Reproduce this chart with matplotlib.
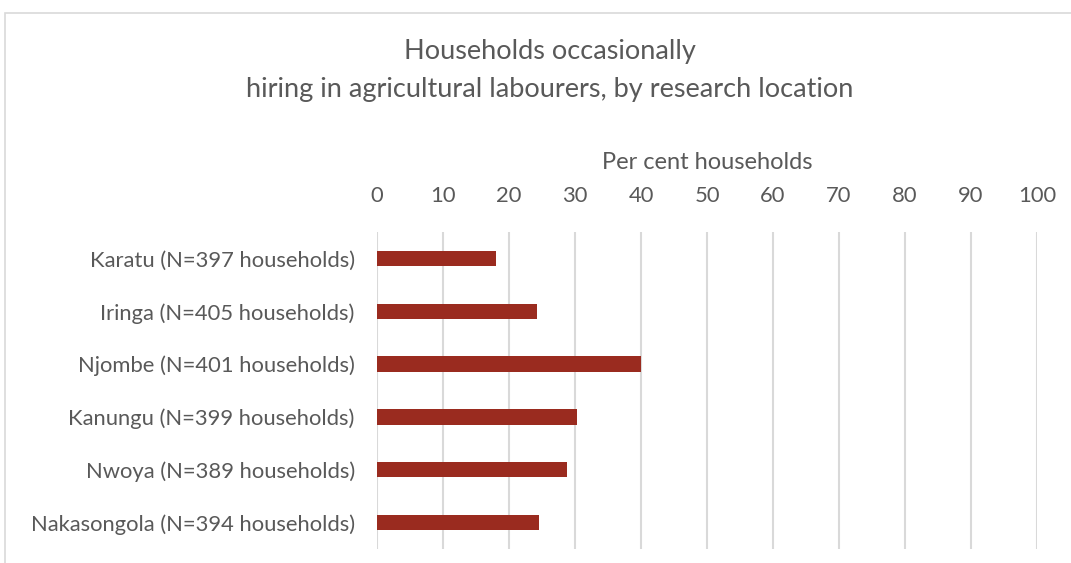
import matplotlib.pyplot as plt
from matplotlib.patches import Rectangle

locations = ['Karatu (N=397 households)', 'Iringa (N=405 households)',
             'Njombe (N=401 households)', 'Kanungu (N=399 households)',
             'Nwoya (N=389 households)', 'Nakasongola (N=394 households)']
percent = [18.1, 24.2, 40.0, 30.3, 28.8, 24.6]
ticks = list(range(0, 101, 10))

plt.rcParams['font.family'] = ['Lato', 'DejaVu Sans']
txt = '#595959'

fig = plt.figure(figsize=(10.71, 5.63), dpi=100)
W, H = 1071, 563
ax = fig.add_axes([377 / W, 1 - 549 / H, (1037 - 377) / W, (549 - 232) / H])

ypos = range(len(locations))
ax.barh(ypos, percent, height=0.29, color='#9A2B1F', zorder=3)
ax.set_ylim(len(locations) - 0.5, -0.5)
ax.set_xlim(0, 100)
ax.set_yticks(list(ypos))
ax.set_yticklabels(locations)
ax.set_xticks(ticks)
ax.xaxis.tick_top()
ax.xaxis.set_label_position('top')
ax.set_xlabel('Per cent households', fontsize=17, color=txt, labelpad=12)
ax.tick_params(axis='both', length=0, labelsize=15.8, colors=txt)
ax.tick_params(axis='x', pad=19)
ax.tick_params(axis='y', pad=16)
ax.grid(axis='x', color='#D9D9D9', linewidth=1.5, zorder=0)
for s in ax.spines.values():
    s.set_visible(False)

fig.text(550 / W, 1 - 51 / H, 'Households occasionally', ha='center', va='center',
         fontsize=19.5, color=txt)
fig.text(550 / W, 1 - 89 / H, 'hiring in agricultural labourers, by research location',
         ha='center', va='center', fontsize=19.5, color=txt)

fig.add_artist(Rectangle((5 / W, -0.01), 1.1, 1 - 13 / H + 0.01, transform=fig.transFigure,
                         fill=False, edgecolor='#D9D9D9', linewidth=1.2))

fig.savefig('out.png', dpi=100)
